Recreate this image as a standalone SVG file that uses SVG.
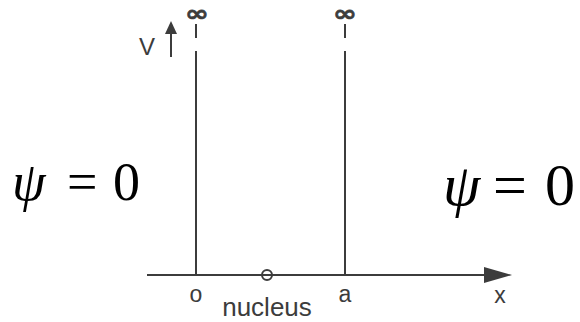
<svg xmlns="http://www.w3.org/2000/svg" width="580" height="322" viewBox="0 0 580 322">
<style>
.ln{stroke:#3c3c3c;stroke-width:2;fill:none}
.lab{font-family:"Liberation Sans",Arial,sans-serif;fill:#3c3c3c;text-anchor:middle}
.eq{font-family:"Liberation Serif","Times New Roman",serif;fill:#000}
.inf{font-family:"DejaVu Sans",sans-serif;font-weight:bold;fill:#3c3c3c;stroke:#3c3c3c;stroke-width:0.6;text-anchor:middle;font-size:22px}
</style>
<rect width="580" height="322" fill="#fff"/>
<g id="connectors">
<line class="ln" x1="147" y1="275" x2="490" y2="275"/>
<path d="M484,267 L512,275 L484,283 Z" fill="#3c3c3c"/>
<line class="ln" x1="196" y1="51" x2="196" y2="275"/>
<line class="ln" x1="345" y1="51" x2="345" y2="275"/>
<line class="ln" x1="196" y1="24" x2="196" y2="38" stroke-width="2.5"/>
<line class="ln" x1="345" y1="24" x2="345" y2="38" stroke-width="2.5"/>
<line class="ln" x1="171" y1="57" x2="171" y2="30" stroke-width="2.5"/>
<path d="M165,34 L171,21 L177,34 Z" fill="#3c3c3c"/>
</g>
<g id="nucleus">
<circle cx="267" cy="275" r="5" class="ln" fill="none"/>
<text class="lab" x="267" y="316" font-size="26">nucleus</text>
</g>
<g id="inf-left"><text class="inf" transform="translate(197,21) scale(1.3,1)">∞</text></g>
<g id="inf-right"><text class="inf" transform="translate(345,21) scale(1.3,1)">∞</text></g>
<g id="labels">
<text class="lab" x="147" y="55" font-size="24">V</text>
<text class="lab" x="196" y="302" font-size="23">o</text>
<text class="lab" x="345" y="302" font-size="23">a</text>
<text class="lab" x="500" y="303" font-size="23">x</text>
</g>
<g id="psi-left">
<text class="eq" y="200" font-size="54"><tspan x="12" font-style="italic">ψ</tspan><tspan x="67">=</tspan><tspan x="113">0</tspan></text>
</g>
<g id="psi-right">
<text class="eq" y="205" font-size="60"><tspan x="443" font-style="italic">ψ</tspan><tspan x="493">=</tspan><tspan x="545">0</tspan></text>
</g>
</svg>
